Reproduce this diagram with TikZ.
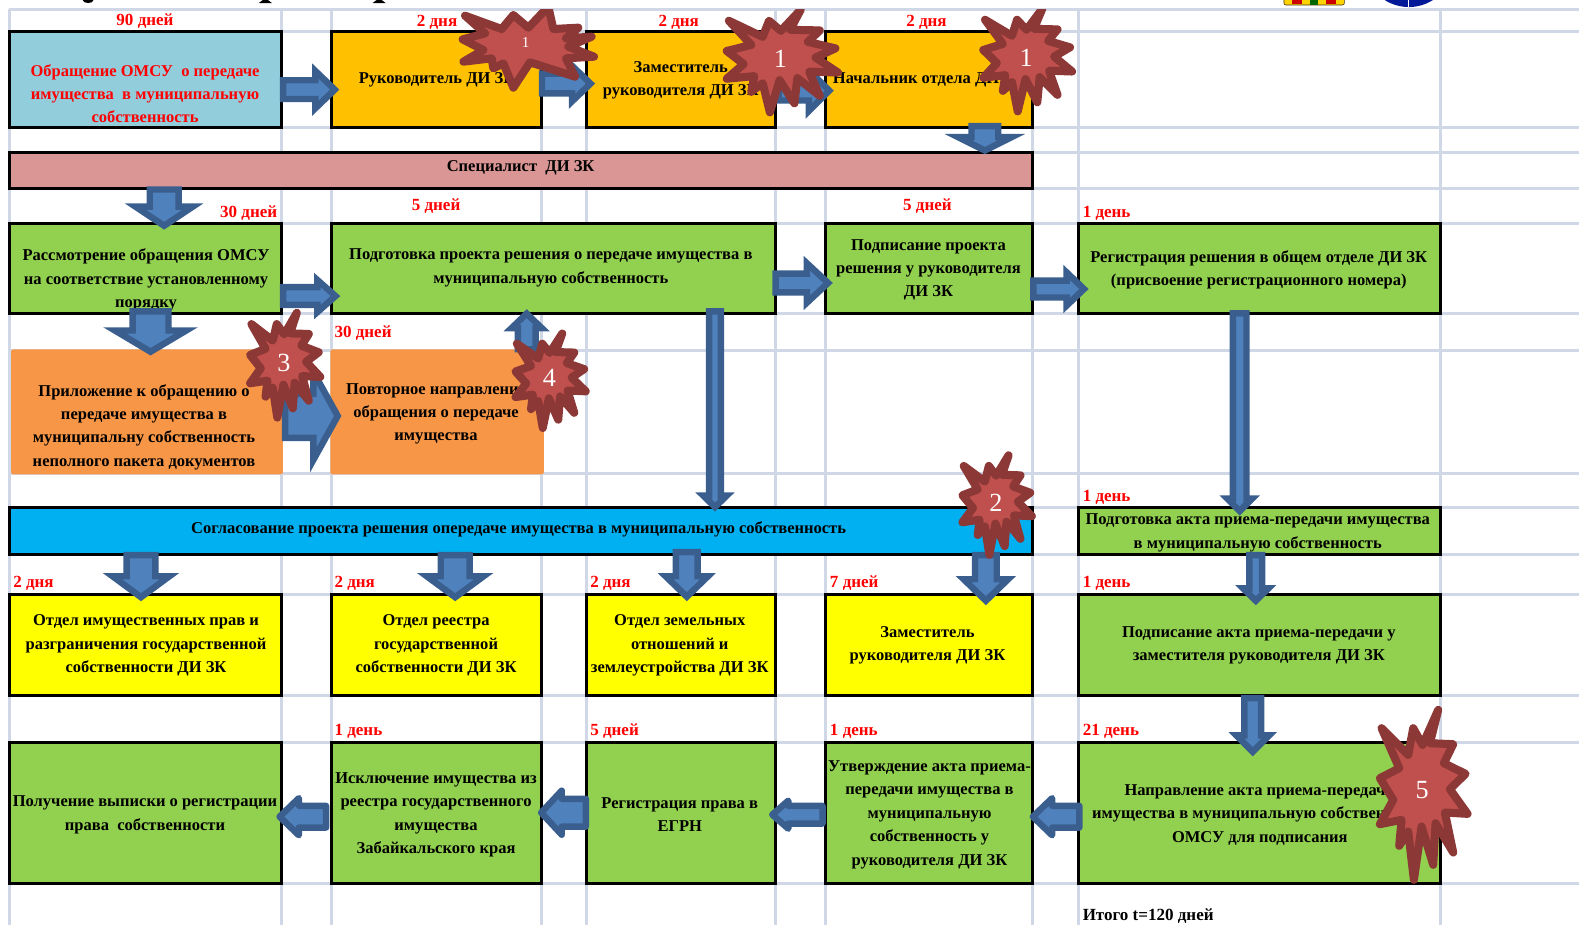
\documentclass[tikz,border=0pt]{standalone}
\usepackage{fontspec}
\setmainfont{Liberation Serif}
\usetikzlibrary{calc}
\definecolor{gridc}{HTML}{D0D8E8}
\definecolor{arrline}{HTML}{3A5F8F}
\definecolor{arrfill}{HTML}{4F81BD}
\definecolor{burstfill}{HTML}{C0504D}
\definecolor{burstline}{HTML}{8C3836}
\definecolor{cblue}{HTML}{92CDDC}
\definecolor{cgold}{HTML}{FFC000}
\definecolor{cpink}{HTML}{D99694}
\definecolor{cgreen}{HTML}{92D050}
\definecolor{corange}{HTML}{F79646}
\definecolor{csky}{HTML}{00B0F0}
\definecolor{cyell}{HTML}{FFFF00}
\newcommand{\dsp}{~\ }
\tikzset{
  x=1pt,y=-1pt,
  boxn/.style={draw=black,line width=3pt,outer sep=0pt,inner sep=0pt},
  softn/.style={rounded corners=2pt,outer sep=0pt,inner sep=0pt},
  txt/.style={font=\bfseries\fontsize{16.4}{23.2}\selectfont,align=center,inner sep=0pt,text=black,yshift=-1pt},
  redt/.style={font=\bfseries\fontsize{16.9}{18}\selectfont,text=red,inner sep=0pt,yshift=-1pt},
  gridl/.style={draw=gridc,line width=3pt},
  blockarr/.style={draw=arrline,fill=arrfill,line width=6.4pt,miter limit=30},
  roundarr/.style={blockarr,line join=round},
  burstp/.style={draw=burstline,fill=burstfill,line width=8pt,line join=round},
  burstn/.style={text=white,inner sep=0pt},
}
\newcommand{\bx}[7][boxn]{%
  \pgfmathsetmacro\cxx{(#3+#5)/2}\pgfmathsetmacro\cyy{(#4+#6)/2}%
  \pgfmathsetmacro\wxx{#5-#3}\pgfmathsetmacro\hxx{#6-#4}%
  \node[#1,fill=#7,minimum width=\wxx pt,minimum height=\hxx pt] (#2) at (\cxx,\cyy) {};}
\newcommand{\tx}[5][]{\node[txt,#1] (#2) at (#3,#4) {#5};}
\newcommand{\rl}[4]{\node[redt,anchor=west] (#1) at (#2,#3) {#4};}
\newcommand{\rc}[4]{\node[redt] (#1) at (#2,#3) {#4};}
% block arrow given by outer dimensions: id, tail, tip, half shaft, half head, head length
\newcommand{\arr}[7][blockarr]{%
  \coordinate (#2s) at (#3);\coordinate (#2t) at (#4);
  \pgfmathsetmacro\sss{#5-3.2}\pgfmathsetmacro\thh{atan(#6/#7)}%
  \pgfmathsetmacro\dtp{3.2/sin(\thh)}\pgfmathsetmacro\lll{#7-3.2}%
  \pgfmathsetmacro\hhh{(#7-3.2-\dtp)*#6/#7}%
  \coordinate (#2e) at ($(#2t)!\dtp pt!(#2s)$);
  \coordinate (#2h) at ($(#2t)!\lll pt!(#2s)$);
  \coordinate (#2a) at ($(#2s)!3.2pt!(#2t)$);
  \path[#1] ($(#2a)!\sss pt!90:(#2e)$) -- ($(#2h)!\sss pt!90:(#2e)$) -- ($(#2h)!\hhh pt!90:(#2e)$)
    -- (#2e) -- ($(#2h)!\hhh pt!-90:(#2e)$) -- ($(#2h)!\sss pt!-90:(#2e)$) -- ($(#2a)!\sss pt!-90:(#2e)$) -- cycle;}
\newcommand{\PP}[2]{({\cxb+\sa*(#1)},{\cyb+\sd*(#2)})}
\newcommand{\burst}[7]{%
  \def\cxb{#2}\def\cyb{#3}\def\sa{#4}\def\sd{#5}%
  \path[burstp] \PP{48}{-242} -- \PP{23}{-142} -- \PP{93}{-139} -- \PP{65}{-82} -- \PP{130}{-50} -- \PP{83}{-4}
   -- \PP{136}{70} -- \PP{68}{66} -- \PP{93}{186} -- \PP{40}{98} -- \PP{33}{223} -- \PP{-2}{108} -- \PP{-25}{268}
   -- \PP{-42}{123} -- \PP{-69}{166} -- \PP{-62}{88} -- \PP{-127}{101} -- \PP{-87}{28} -- \PP{-127}{-37}
   -- \PP{-69}{-67} -- \PP{-122}{-187} -- \PP{-42}{-107} -- \PP{-27}{-187} -- \PP{1}{-137} -- cycle;
  \node[burstn,font=\fontsize{#7}{#7}\selectfont] (#1) at (#2,#3) {#6};}
\begin{document}
\begin{tikzpicture}
\useasboundingbox (0,0) rectangle (1568,918.5);
\clip (0,0) rectangle (1568,918.5);
% cropped remains of the page above the chart
\fill[black] (82,0) .. controls (83,4) and (92,4) .. (93,0) -- cycle;
\fill[black] (257,3) -- (270,3) -- (266,0) -- (261,0) -- cycle;
\fill[black] (370,3) -- (383,3) -- (379,0) -- (374,0) -- cycle;
\fill[cgold!70!yellow,draw=black!60!brown,line width=.6pt,rounded corners=2pt] (1275,-3) rectangle (1335,5);
\fill[green!40!black] (1301,0) rectangle (1309,5);
\fill[red!80!black] (1283,0) rectangle (1293,4);
\fill[red!80!black] (1317,0) rectangle (1327,4);
\fill[blue!55!black!90!cyan] (1399,-37.6) circle (44.6);
\draw[white,line width=.7pt] (1399,0) -- (1399,7);
% grid
\foreach \gx in {9,280,329,582,770,820,1071,1430}{\path[gridl] (\gx,9) -- (\gx,918.5);}
\foreach \gx in {538,1025}{\path[gridl] (\gx,127) -- (\gx,918.5);}
\foreach \gy in {9,31,127,151,187,222,311,348,470,504,551,590,691,737,877}{\path[gridl] (9,\gy) -- (1568,\gy);}
% boxes
\bx{b1}{9}{31}{280}{127}{cblue}
\bx{b2}{329}{31}{538}{127}{cgold}
\bx{b3}{582}{31}{770}{127}{cgold}
\bx{b4}{820}{31}{1025}{127}{cgold}
\bx{spec}{9}{151}{1025}{187}{cpink}
\bx{g1}{9}{222}{280}{311}{cgreen}
\bx{g2}{329}{222}{770}{311}{cgreen}
\bx{g3}{820}{222}{1025}{311}{cgreen}
\bx{g4}{1071}{222}{1430}{311}{cgreen}
\bx[softn]{o1}{11}{347}{281}{471}{corange}
\bx[softn]{o2}{328}{347}{540}{471}{corange}
\bx{sogl}{9}{504}{1025}{551}{csky}
\bx{g5}{1071}{504}{1430}{551}{cgreen}
\bx{y1}{9}{590}{280}{691}{cyell}
\bx{y2}{329}{590}{538}{691}{cyell}
\bx{y3}{582}{590}{770}{691}{cyell}
\bx{y4}{820}{590}{1025}{691}{cyell}
\bx{g6}{1071}{590}{1430}{691}{cgreen}
\bx{g7}{9}{737}{280}{877}{cgreen}
\bx{g8}{329}{737}{538}{877}{cgreen}
\bx{g9}{582}{737}{770}{877}{cgreen}
\bx{g10}{820}{737}{1025}{877}{cgreen}
\bx{g11}{1071}{737}{1430}{877}{cgreen}
% box texts
\tx[text=red]{tb1}{144}{92}{Обращение ОМСУ\dsp о передаче\\имущества\dsp в муниципальную\\собственность}
\tx{tb2}{434}{78}{Руководитель ДИ ЗК}
\tx{tb3}{676}{79}{Заместитель\\руководителя ДИ ЗК}
\tx{tb4}{922}{78}{Начальник отдела ДИ ЗК}
\tx{tspec}{517}{166}{Специалист\dsp ДИ ЗК}
\tx{tg1}{145}{277}{Рассмотрение обращения ОМСУ\\на соответствие установленному\\порядку}
\tx{tg2}{547}{265}{Подготовка проекта решения о передаче имущества в\\муниципальную собственность}
\tx{tg3}{922}{267}{Подписание проекта\\решения у руководителя\\ДИ ЗК}
\tx{tg4}{1250}{267}{Регистрация решения в общем отделе ДИ ЗК\\(присвоение регистрационного номера)}
\tx{to1}{143}{423}{Приложение к обращению о\\передаче имущества в\\муниципальну собственность\\неполного пакета документов}
\tx{to2}{433}{410}{Повторное направление\\обращения о передаче\\имущества}
\tx{tsogl}{515}{525}{Согласование проекта решения опередаче имущества в муниципальную собственность}
\tx{tg5}{1249}{528}{Подготовка акта приема-передачи имущества\\в муниципальную собственность}
\tx{ty1}{145}{640}{Отдел имущественных прав и\\разграничения государственной\\собственности ДИ ЗК}
\tx{ty2}{433}{640}{Отдел реестра\\государственной\\собственности ДИ ЗК}
\tx{ty3}{675}{640}{Отдел земельных\\отношений и\\землеустройства ДИ ЗК}
\tx{ty4}{921}{640}{Заместитель\\руководителя ДИ ЗК}
\tx{tg6}{1250}{640}{Подписание акта приема-передачи у\\заместителя руководителя ДИ ЗК}
\tx{tg7}{144}{808}{Получение выписки о регистрации\\права\dsp собственности}
\tx{tg8}{433}{808}{Исключение имущества из\\реестра государственного\\имущества\\Забайкальского края}
\tx{tg9}{675}{808}{Регистрация права в\\ЕГРН}
\tx{tg10}{923}{808}{Утверждение акта приема-\\передачи имущества в\\муниципальную\\собственность у\\руководителя ДИ ЗК}
\tx{tg11}{1251}{808}{Направление акта приема-передачи\\имущества в муниципальную собственность\\ОМСУ для подписания}
% day labels
\rc{d1}{144}{20}{90 дней}
\rc{d2}{434}{21}{2 дня}
\rc{d3}{674}{21}{2 дня}
\rc{d4}{920}{21}{2 дня}
\rc{d5}{247}{211}{30 дней}
\rc{d6}{433}{204}{5 дней}
\rc{d7}{921}{204}{5 дней}
\rl{d8}{1075}{211}{1 день}
\rl{d9}{332}{330}{30 дней}
\rl{d10}{1075}{493}{1 день}
\rl{d11}{13}{578}{2 дня}
\rl{d12}{332}{578}{2 дня}
\rl{d13}{586}{578}{2 дня}
\rl{d14}{824}{578}{7 дней}
\rl{d15}{1075}{578}{1 день}
\rl{d16}{332}{725}{1 день}
\rl{d17}{586}{725}{5 дней}
\rl{d18}{824}{725}{1 день}
\rl{d19}{1075}{725}{21 день}
\node[redt,text=black,anchor=west] (total) at (1075,909) {Итого t=120 дней};
% block arrows
\arr{A1}{278,89}{337,89}{12.5}{26}{27}
\arr{A2}{535,83}{591,83}{13}{25}{26}
\arr{A3}{770,90}{828,90}{13}{28}{28}
\arr{A4}{978,122}{978,153}{16.5}{40}{20}
\arr{A5}{163,185}{163,228}{17.5}{39}{26}
\arr{A6}{278,294}{338,294}{12}{23}{26}
\arr{A22}{767,281}{827,281}{12.5}{27}{29}
\arr{A23}{1023,287}{1081,287}{11.6}{24}{25}
\arr{A7}{149.5,306}{149.5,353}{21}{47}{28}
\arr{A8}{280,413}{339,413}{25}{56}{31}
\arr{A9}{523,350}{523,307}{12}{23}{22}
\arr{A10}{710,306}{710,508}{9}{19.5}{19}
\arr{A11}{1231,308}{1231,512}{10}{20}{20}
\arr{A12}{140,548}{140,597}{17.5}{38}{28}
\arr{A13}{452,548}{452,597}{17.5}{38}{28}
\arr{A14}{682,545}{682,597}{14}{29}{28}
\arr{A15}{979,548}{979,601}{14}{30}{29}
\arr{A16}{1247,548}{1247,601}{9.5}{20.5}{20}
\arr{A17}{1244,690}{1244,751}{11.5}{24}{24}
\arr[roundarr]{A18}{1075,811}{1021,811}{14}{26}{27}
\arr[roundarr]{A19}{820,809}{762,809}{12}{21}{24}
\arr[roundarr]{A20}{585,807}{533,807}{17}{30}{28}
\arr[roundarr]{A21}{327,811}{273,811}{14}{26}{27}
% bursts
\begin{scope}
\clip (0,9) rectangle (1568,918.5);
\begin{scope}[shift={(456.8,4.97)},scale=.331]
\path[burstp] (15,32) -- (125,72) -- (160,30) -- (205,68) -- (265,5) -- (280,72) -- (355,68) -- (318,100)
  -- (395,95) -- (325,125) -- (402,155) -- (318,160) -- (345,215) -- (210,172) -- (160,248) -- (130,175)
  -- (100,190) -- (95,160) -- (10,170) -- (70,135) -- (8,103) -- (75,85) -- cycle;
\end{scope}
\node[burstn,font=\fontsize{15}{15}\selectfont] (s1) at (522,42) {1};
\burst{s2}{775}{58}{.42}{.2}{1}{26}
\burst{s3}{1019}{57}{.335}{.2}{1}{26}
\burst{s4}{989}{499}{.262}{.194}{2}{26}
\burst{s5}{282}{360}{.265}{.204}{3}{26}
\burst{s6}{545.6}{375.7}{.265}{.184}{4}{26}
\burst{s7}{1412.3}{785}{.331}{.331}{5}{26}
\end{scope}
\end{tikzpicture}
\end{document}
